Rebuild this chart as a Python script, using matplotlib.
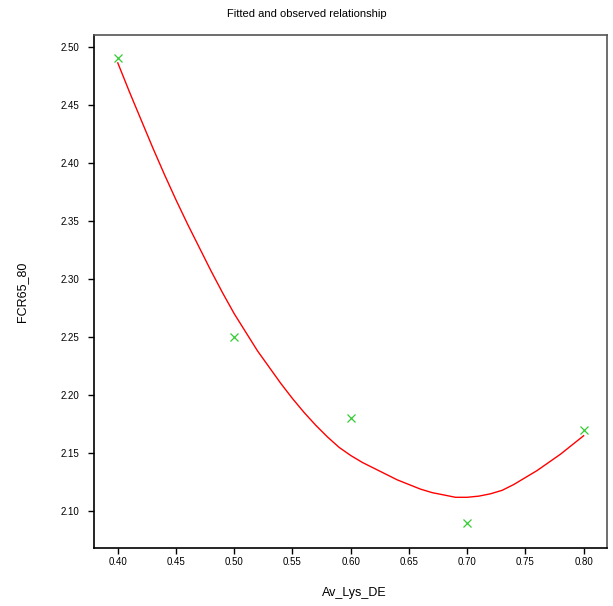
import matplotlib
matplotlib.use("Agg")
import matplotlib.pyplot as plt

plt.rcParams['font.family'] = ['Liberation Sans', 'DejaVu Sans']

# Observed data
obs_x = [0.40, 0.50, 0.60, 0.70, 0.80]
obs_y = [2.49, 2.25, 2.18, 2.09, 2.17]

# Fitted curve
fit_x = [0.400, 0.410, 0.420, 0.430, 0.440, 0.450, 0.460, 0.470, 0.480, 0.490,
         0.500, 0.510, 0.520, 0.530, 0.540, 0.550, 0.560, 0.570, 0.580, 0.590,
         0.600, 0.610, 0.620, 0.630, 0.640, 0.650, 0.660, 0.670, 0.680, 0.690,
         0.700, 0.710, 0.720, 0.730, 0.740, 0.750, 0.760, 0.770, 0.780, 0.790,
         0.800]
fit_y = [2.486, 2.461, 2.437, 2.413, 2.390, 2.368, 2.347, 2.327, 2.307, 2.288,
         2.270, 2.254, 2.238, 2.224, 2.210, 2.197, 2.185, 2.174, 2.164, 2.155,
         2.148, 2.142, 2.137, 2.132, 2.127, 2.123, 2.119, 2.116, 2.114, 2.112,
         2.112, 2.113, 2.115, 2.118, 2.123, 2.129, 2.135, 2.142, 2.149, 2.157,
         2.165]

x_ticks = [0.40, 0.45, 0.50, 0.55, 0.60, 0.65, 0.70, 0.75, 0.80]
y_ticks = [2.10, 2.15, 2.20, 2.25, 2.30, 2.35, 2.40, 2.45, 2.50]

fig = plt.figure(figsize=(6.13, 6.06), dpi=100)
ax = fig.add_axes([0.1538, 0.0962, 0.9897 - 0.1538, 0.9422 - 0.0962])

ax.plot(fit_x, fit_y, color='#ff0000', lw=1.0)
ax.plot(obs_x, obs_y, linestyle='none', marker='x', color='#33cc33',
        markersize=6, markeredgewidth=0.9)

ax.set_xlim(0.3798, 0.8198)
ax.set_ylim(2.0686, 2.5100)
ax.set_xticks(x_ticks)
ax.set_xticklabels([f"{v:.2f}" for v in x_ticks])
ax.set_yticks(y_ticks)
ax.set_yticklabels([f"{v:.2f}" for v in y_ticks])

ax.tick_params(direction='out', length=4.5, width=1.0, labelsize=7, color='black')
ax.tick_params(axis='y', pad=6)
ax.tick_params(axis='x', pad=2)

for s in ['left', 'bottom']:
    ax.spines[s].set_color('black')
    ax.spines[s].set_linewidth(1.2)
for s in ['top', 'right']:
    ax.spines[s].set_color('#555555')
    ax.spines[s].set_linewidth(1.2)

fig.text(0.5, 1 - 14 / 606, "Fitted and observed relationship", ha='center',
         va='center', fontsize=8)
fig.text(0.5785, 1 - 593 / 606, "Av_Lys_DE", ha='center', va='center', fontsize=9)
fig.text(22 / 613, 1 - 292 / 606, "FCR65_80", ha='center', va='center',
         fontsize=9, rotation=90)

fig.savefig("out.png", dpi=100)
